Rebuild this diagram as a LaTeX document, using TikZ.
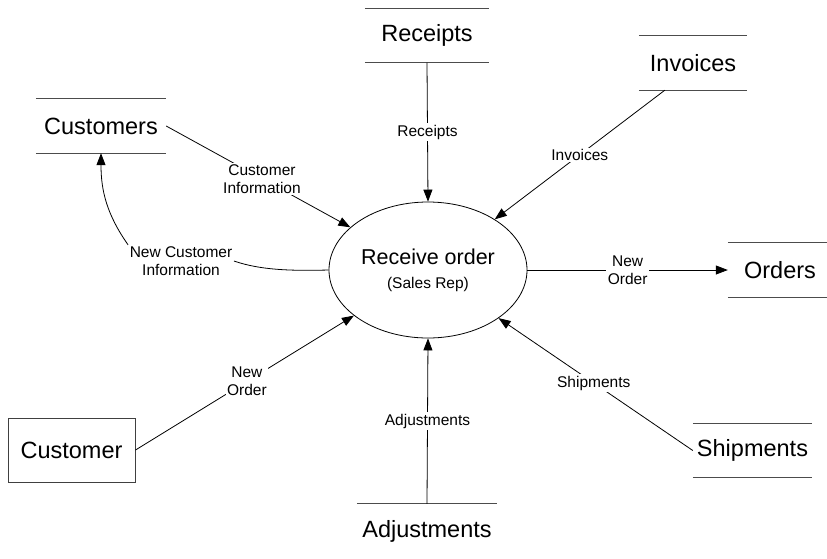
\documentclass[tikz,border=0pt]{standalone}
\usepackage{fontspec}
\setmainfont{Liberation Sans}
\usetikzlibrary{arrows.meta,calc,shapes.geometric}

\begin{document}
\begin{tikzpicture}[x=1pt,y=-1pt,
  flow/.style={line width=0.8pt,-{Triangle[length=12pt,width=9pt]}},
  plain/.style={line width=0.8pt},
  lbl/.style={fill=white,inner sep=1.5pt,align=center,font=\fontsize{15.5}{18}\selectfont},
  storeline/.style={line width=1.2pt,black!70},
  store/.style={minimum width=#1,minimum height=54pt,inner sep=0pt,
    font=\fontsize{23.5}{28}\selectfont,
    append after command={
      (\tikzlastnode.north west) edge[storeline] (\tikzlastnode.north east)
      (\tikzlastnode.south west) edge[storeline] (\tikzlastnode.south east)}},
  topstore/.style={minimum width=#1,minimum height=54pt,inner sep=0pt,
    font=\fontsize{23.5}{28}\selectfont,
    append after command={
      (\tikzlastnode.north west) edge[storeline] (\tikzlastnode.north east)}},
  entity/.style={draw,line width=1pt,black!75,text=black,minimum width=127pt,minimum height=64pt,
    inner sep=0pt,font=\fontsize{23.5}{28}\selectfont},
  process/.style={draw,line width=0.8pt,ellipse,minimum width=198pt,minimum height=136pt,
    inner sep=0pt,align=center,font=\fontsize{15.5}{24}\selectfont}
]
\useasboundingbox (0,0) rectangle (827,558);

% central process
\node[process] (proc) at (428,270)
  {{\fontsize{21.5}{24}\selectfont Receive order}\\(Sales Rep)};

% data stores
\node[store=124pt] (receipts)  at (427,35.5) {Receipts};
\node[store=108pt] (invoices)  at (693,63)   {Invoices};
\node[store=130pt] (customers) at (101,126)  {Customers};
\node[store=104pt] (orders)    at (780,270)  {Orders};
\node[store=119pt] (shipments) at (752.5,450.5) {Shipments};
\node[topstore=140pt] (adjust) at (427,531) {Adjustments};

% external entity
\node[entity] (customer) at (71.5,450) {Customer};

% flows into the process
\draw[flow] (receipts.south) -- node[lbl,pos=0.5] {Receipts} (proc.north);
\coordinate (invout) at ($(invoices.south west)!0.24!(invoices.south east)$);
\draw[flow] (invout) -- node[lbl,pos=0.5] {Invoices} (proc);
\draw[flow] (customers.east) -- node[lbl,pos=0.52] {Customer\\Information} (proc);
\draw[flow] (customer.east) -- node[lbl,pos=0.51] {New\\Order} (proc);
\draw[flow] (shipments.west) -- node[lbl,pos=0.51] {Shipments} (proc);
\draw[flow] (adjust.north) -- node[lbl,pos=0.5] {Adjustments} (proc.south);

% flows out of the process
\draw[flow] (proc.east) -- node[lbl,pos=0.5] {New\\Order} (orders.west);

\node[lbl] (nci) at (181,261) {New Customer\\Information};
\draw[plain] (proc.west) .. controls (290,271) and (260,270) .. (nci.east);
\draw[flow] (nci.north west) to[out=125,in=-90] (customers.south);

\end{tikzpicture}
\end{document}
